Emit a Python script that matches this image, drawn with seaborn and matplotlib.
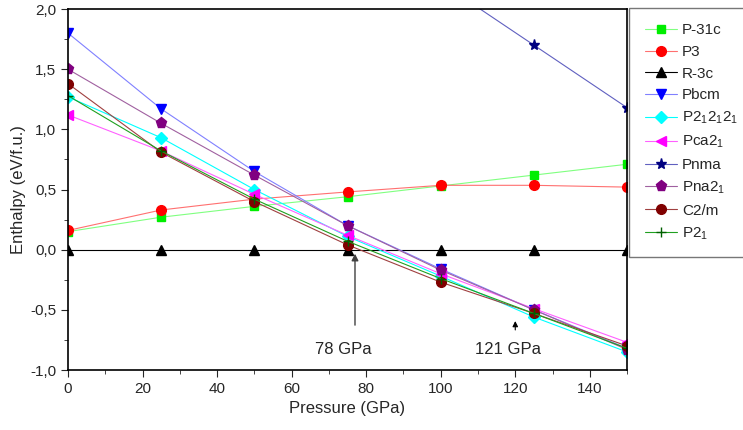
import numpy as np
import seaborn as sns
import matplotlib.pyplot as plt
import matplotlib.ticker as mticker

# Pressure grid (GPa)
pressure = [0, 25, 50, 75, 100, 125, 150]

# Enthalpy relative to R-3c (eV/f.u.)
p31c = [0.15, 0.27, 0.36, 0.44, 0.53, 0.62, 0.71]
p3 = [0.16, 0.33, 0.42, 0.48, 0.535, 0.535, 0.52]
r3c = [0.0, 0.0, 0.0, 0.0, 0.0, 0.0, 0.0]
pbcm = [1.80, 1.17, 0.65, 0.20, -0.16, -0.50, -0.82]
p212121 = [1.27, 0.93, 0.50, 0.11, -0.22, -0.56, -0.85]
pca21 = [1.12, 0.82, 0.46, 0.12, -0.20, -0.49, -0.77]
pnma_p = [75, 100, 125, 150]
pnma = [2.75, 2.22, 1.70, 1.18]
pna21 = [1.50, 1.05, 0.62, 0.20, -0.17, -0.50, -0.83]
c2m = [1.38, 0.81, 0.40, 0.04, -0.27, -0.53, -0.80]
p21 = [1.28, 0.82, 0.42, 0.07, -0.24, -0.53, -0.82]

sns.set_style("ticks")
plt.rcParams['font.family'] = ['Liberation Sans', 'DejaVu Sans']
plt.rcParams['mathtext.default'] = 'regular'

fig = plt.figure(figsize=(7.43, 4.30), dpi=100)
ax = fig.add_axes([0.0915, 0.1395, 0.7525, 0.8395])

# (label, x, y, marker, line colour, marker colour, marker size)
series = [
    ("P-31c", pressure, p31c, 's', '#80ff80', '#00ee00', 6),
    ("P3", pressure, p3, 'o', '#ff7070', '#ff0000', 7),
    ("R-3c", pressure, r3c, '^', '#000000', '#000000', 7),
    ("Pbcm", pressure, pbcm, 'v', '#8080ff', '#0000ff', 7),
    ("P2$_1$2$_1$2$_1$", pressure, p212121, 'D', '#00ffff', '#00ffff', 6),
    ("Pca2$_1$", pressure, pca21, '<', '#ff60ff', '#ff00ff', 7),
    ("Pnma", pnma_p, pnma, '*', '#6060c0', '#000080', 8),
    ("Pna2$_1$", pressure, pna21, 'p', '#a060a0', '#800080', 8),
    ("C2/m", pressure, c2m, 'o', '#a04040', '#800000', 7),
    ("P2$_1$", pressure, p21, '+', '#20a020', '#006000', 7),
]

for label, xs, ys, mk, lc, mc, ms in series:
    sns.lineplot(x=xs, y=ys, ax=ax, label=label, color=lc, linewidth=0.8,
                 marker=mk, markersize=ms, markerfacecolor=mc,
                 markeredgecolor=mc, markeredgewidth=1.0, clip_on=True)

ax.set_xlim(0, 150)
ax.set_ylim(-1.0, 2.0)
ax.xaxis.set_major_locator(mticker.MultipleLocator(20))
ax.xaxis.set_minor_locator(mticker.MultipleLocator(10))
ax.yaxis.set_major_locator(mticker.MultipleLocator(0.5))
ax.yaxis.set_minor_locator(mticker.MultipleLocator(0.25))
ax.yaxis.set_major_formatter(mticker.FuncFormatter(lambda v, _: f'{v:.1f}'.replace('.', ',')))
ax.tick_params(which='both', direction='out', labelsize=11)
ax.tick_params(which='major', length=5)
ax.tick_params(which='minor', length=3)
for s in ax.spines.values():
    s.set_visible(True)
    s.set_linewidth(1.2)
    s.set_color('black')

ax.set_xlabel("Pressure (GPa)", fontsize=12)
ax.set_ylabel("Enthalpy (eV/f.u.)", fontsize=12, labelpad=3)

# Transition annotations
ax.annotate("", xy=(77, -0.01), xytext=(77, -0.65),
            arrowprops=dict(arrowstyle='-|>', color='#404040', lw=1.0, mutation_scale=10))
ax.text(74, -0.83, "78 GPa", ha='center', va='center', fontsize=12)
ax.annotate("", xy=(120, -0.57), xytext=(120, -0.69),
            arrowprops=dict(arrowstyle='-|>', color='black', lw=0.8, mutation_scale=8))
ax.text(118, -0.83, "121 GPa", ha='center', va='center', fontsize=12)

handles, labels = ax.get_legend_handles_labels()
ax.legend_.remove()
leg = fig.legend(handles, labels, loc='upper left', bbox_to_anchor=(0.847, 0.981),
                 frameon=True, fancybox=False, fontsize=11, handlelength=2.1,
                 labelspacing=0.5, borderpad=1.0, handletextpad=0.35,
                 borderaxespad=0)
leg.get_frame().set_edgecolor('#555555')
leg.get_frame().set_linewidth(1.0)
leg._legend_box.sep = 6

fig.savefig("out.png", dpi=100)
